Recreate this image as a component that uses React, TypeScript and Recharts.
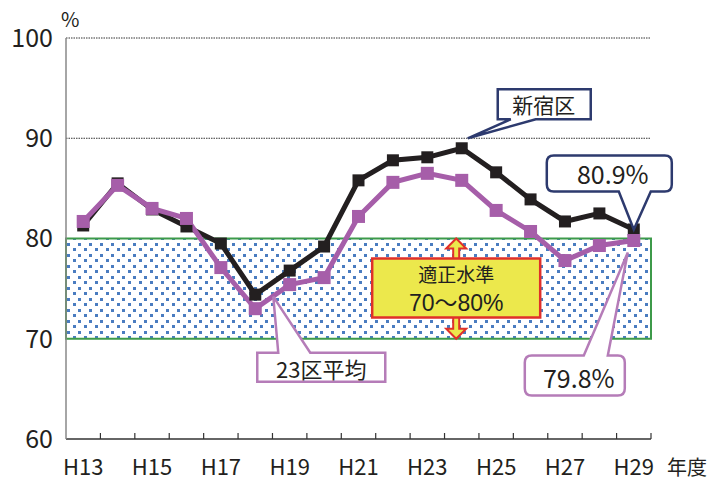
import React from 'react';
import { LineChart, Line, XAxis, YAxis, ReferenceArea, ReferenceLine, ReferenceDot } from 'recharts';

const categories = ['H13', 'H14', 'H15', 'H16', 'H17', 'H18', 'H19', 'H20', 'H21', 'H22', 'H23', 'H24', 'H25', 'H26', 'H27', 'H28', 'H29'];
const shinjuku = [81.3, 85.5, 82.9, 81.2, 79.5, 74.4, 76.8, 79.2, 85.8, 87.8, 88.1, 89.0, 86.6, 83.9, 81.7, 82.5, 80.9];
const ward23 = [81.7, 85.3, 83.0, 82.0, 77.1, 73.0, 75.4, 76.1, 82.2, 85.6, 86.5, 85.8, 82.8, 80.7, 77.8, 79.3, 79.8];
const yTicks = [60, 70, 80, 90, 100];
const gridValues = [90, 100];

const data = categories.map((c, i) => ({ name: c, shinjuku: shinjuku[i], ward23: ward23[i] }));

const W = 708;
const H = 481;
const M = { top: 38, right: 57, bottom: 0, left: 0 };
const Y_W = 66;
const X_H = 42;
const PLOT_W = W - M.left - M.right - Y_W;
const AXIS_Y = H - M.bottom - X_H;
const BW = PLOT_W / categories.length;

const FONT = '"Noto Sans CJK JP", "Noto Sans", sans-serif';
const LATIN = '"Liberation Sans", "Noto Sans CJK JP", sans-serif';
const NAVY = '#2d3a6e';
const PURPLE = '#a65ea9';
const PURPLE_BORDER = '#b57cb8';
const BLACK = '#231f20';

function calloutPath(L: number, T: number, R: number, B: number, r: number, side: 'top' | 'bottom', p1: number, p2: number, tx: number, ty: number) {
  const top = side === 'top' ? `H ${p1} L ${tx} ${ty} L ${p2} ${T} ` : '';
  const bottom = side === 'bottom' ? `H ${p2} L ${tx} ${ty} L ${p1} ${B} ` : '';
  return `M ${L + r} ${T} ${top}H ${R - r} Q ${R} ${T} ${R} ${T + r} V ${B - r} Q ${R} ${B} ${R - r} ${B} ${bottom}H ${L + r} Q ${L} ${B} ${L} ${B - r} V ${T + r} Q ${L} ${T} ${L + r} ${T} Z`;
}

const shinjukuCallout = (p: any) => {
  const { cx, cy } = p;
  return (
    <g>
      <path d={calloutPath(cx + 36, cy - 59, cx + 129, cy - 29, 0, 'bottom', cx + 49, cx + 74, cx + 6, cy - 10)} fill="#fff" stroke={NAVY} strokeWidth={2.5} />
      <text x={cx + 82} y={cy - 44} textAnchor="middle" dominantBaseline="central" fontSize={21} fontFamily={FONT} fill="#231f20">新宿区</text>
    </g>
  );
};

const shinjukuValueCallout = (p: any) => {
  const { cx, cy } = p;
  return (
    <g>
      <path d={calloutPath(cx - 87, cy - 74, cx + 38, cy - 38, 7, 'bottom', cx - 15, cx + 17, cx, cy)} fill="#fff" stroke={NAVY} strokeWidth={2.5} />
      <text x={cx - 21} y={cy - 56} textAnchor="middle" dominantBaseline="central" fontSize={25} fontFamily={FONT} fill="#231f20">80.9%</text>
    </g>
  );
};

const wardValueCallout = (p: any) => {
  const { cx, cy } = p;
  return (
    <g>
      <path d={calloutPath(cx - 109, cy + 115, cx - 9, cy + 155, 7, 'top', cx - 50, cx - 26, cx - 6, cy + 12)} fill="#fff" stroke={PURPLE_BORDER} strokeWidth={2.5} />
      <text x={cx - 55} y={cy + 136} textAnchor="middle" dominantBaseline="central" fontSize={25} fontFamily={FONT} fill="#231f20">79.8%</text>
    </g>
  );
};

const wardCallout = (p: any) => {
  const { cx, cy } = p;
  return (
    <g>
      <path d={calloutPath(cx + 2, cy + 44, cx + 130, cy + 73, 0, 'top', cx + 23, cx + 55, cx + 18, cy - 12)} fill="#fff" stroke={PURPLE_BORDER} strokeWidth={2.5} />
      <text x={cx + 66} y={cy + 59} textAnchor="middle" dominantBaseline="central" fontSize={22} fontFamily={FONT} fill="#231f20">23区平均</text>
    </g>
  );
};

const bandLabel = (props: any) => {
  const vb = props.viewBox || {};
  const { x, y, width, height } = vb;
  if (x == null) return null;
  const ax = x + width * 0.667;
  const top = y;
  const bot = y + height;
  const sw = 3;
  const hw = 10;
  const hh = 10;
  const arrow = `M ${ax} ${top} L ${ax + hw} ${top + hh} L ${ax + sw} ${top + hh} L ${ax + sw} ${bot - hh} L ${ax + hw} ${bot - hh} L ${ax} ${bot} L ${ax - hw} ${bot - hh} L ${ax - sw} ${bot - hh} L ${ax - sw} ${top + hh} L ${ax - hw} ${top + hh} Z`;
  const bx = ax - 84;
  const by = y + 20;
  return (
    <g>
      <path d={arrow} fill="#ece84c" stroke="#e0302a" strokeWidth={2} strokeLinejoin="miter" />
      <rect x={bx} y={by} width={168} height={59} fill="#ece84c" stroke="#e0302a" strokeWidth={2.5} />
      <text x={ax} y={by + 23} textAnchor="middle" fontSize={19} fontFamily={FONT} fill="#231f20">適正水準</text>
      <text x={ax} y={by + 52} textAnchor="middle" fontSize={23} fontFamily={LATIN} fill="#231f20">70～80%</text>
    </g>
  );
};

const XTick = (props: any) => {
  const { x, index, payload } = props;
  const i = index != null ? index : categories.indexOf(payload.value);
  const lx = x - BW / 2;
  return (
    <g>
      {i > 0 && <line x1={lx} x2={lx} y1={AXIS_Y} y2={AXIS_Y - 6} stroke="#333" strokeWidth={1.2} />}
      {i === categories.length - 1 && <line x1={x + BW / 2} x2={x + BW / 2} y1={AXIS_Y} y2={AXIS_Y - 6} stroke="#333" strokeWidth={1.2} />}
      {i % 2 === 0 && (
        <text x={x} y={AXIS_Y + 26} textAnchor="middle" dominantBaseline="central" fontSize={22} fontFamily={FONT} fill="#231f20">{payload.value}</text>
      )}
    </g>
  );
};

const squareDot = (size: number, color: string) => (p: any) => {
  const { cx, cy, index } = p;
  if (cx == null || cy == null) return <g key={index} />;
  return <rect key={index} x={cx - size / 2} y={cy - size / 2} width={size} height={size} fill={color} />;
};

export default function App() {
  return (
    <div style={{ position: 'absolute', left: 0, top: 0, width: W, height: H, background: '#fff' }}>
      <LineChart width={W} height={H} data={data} margin={M}>
        <defs>
          <pattern id="dots" x={0} y={0} width={11} height={11} patternUnits="userSpaceOnUse">
            <rect x={0} y={0} width={11} height={11} fill="#fff" />
            <rect x={1} y={1} width={3} height={3} fill="#4a7cc0" />
            <rect x={7} y={6} width={3} height={3} fill="#4a7cc0" />
          </pattern>
        </defs>
        <XAxis dataKey="name" scale="band" interval={0} height={X_H} tickLine={false} tick={<XTick />} axisLine={{ stroke: '#333', strokeWidth: 1.5 }} />
        <YAxis domain={[60, 100]} ticks={yTicks} width={Y_W} tickLine={false} tickSize={0} tickMargin={13} axisLine={{ stroke: '#888', strokeWidth: 1.5 }} tick={{ fontSize: 25, fontFamily: FONT, fill: '#231f20' }} />
        {gridValues.map((v) => (
          <ReferenceLine key={v} y={v} stroke="#333" strokeWidth={1} strokeDasharray="1.5 1" />
        ))}
        <ReferenceArea y1={70} y2={80} fill="url(#dots)" fillOpacity={1} stroke="#3d9a4a" strokeWidth={2} label={{ content: bandLabel } as any} />
        <Line dataKey="shinjuku" stroke={BLACK} strokeWidth={5} dot={squareDot(12, BLACK)} activeDot={false} isAnimationActive={false} />
        <Line dataKey="ward23" stroke={PURPLE} strokeWidth={5} dot={squareDot(13, PURPLE)} activeDot={false} isAnimationActive={false} />
        <ReferenceDot x="H24" y={shinjuku[11]} r={0} shape={shinjukuCallout} />
        <ReferenceDot x="H29" y={shinjuku[16]} r={0} shape={shinjukuValueCallout} />
        <ReferenceDot x="H29" y={ward23[16]} r={0} shape={wardValueCallout} />
        <ReferenceDot x="H18" y={ward23[5]} r={0} shape={wardCallout} />
      </LineChart>
      <div style={{ position: 'absolute', left: 61, top: 7, fontSize: 20, fontFamily: FONT, color: '#231f20', lineHeight: '24px' }}>%</div>
      <div style={{ position: 'absolute', left: 667, top: 454, fontSize: 20, fontFamily: FONT, color: '#231f20', lineHeight: '26px', whiteSpace: 'nowrap' }}>年度</div>
    </div>
  );
}
